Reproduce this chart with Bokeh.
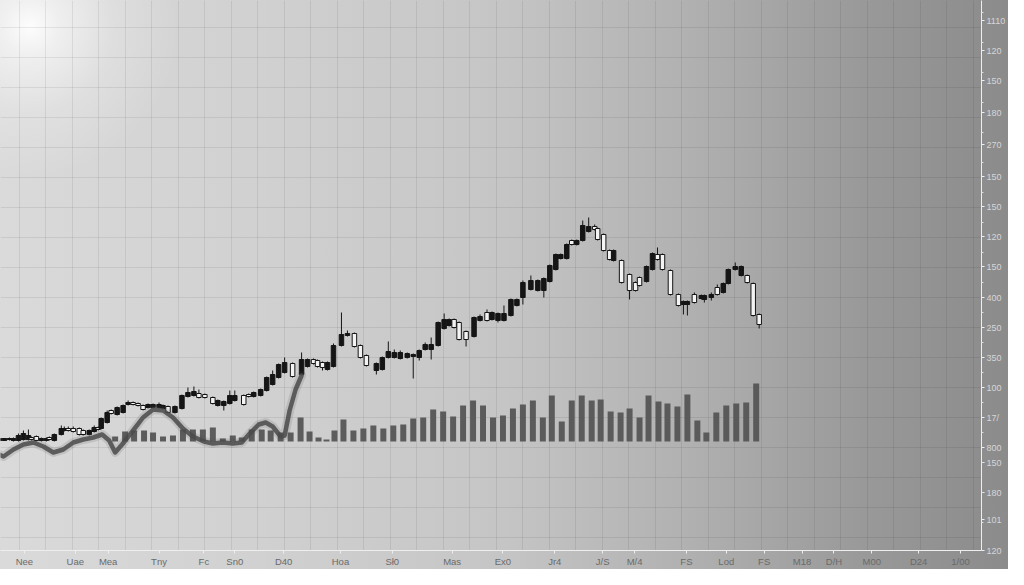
import numpy as np
from bokeh.plotting import figure
from bokeh.models import Range1d, FixedTicker, ColumnDataSource
from bokeh.embed import file_html
from bokeh.resources import INLINE

# ---------------- data ----------------
# candle sessions (time coordinate)
t = [3, 8, 13, 17, 22, 27, 32, 35, 40, 45, 50, 53, 58, 65, 68, 72, 77, 83, 87, 93,
     98, 102, 105, 111, 115, 121, 127, 132, 137, 142, 147, 152, 157, 163, 167, 172, 179, 186, 192, 198,
     203, 209, 217, 222, 228, 234, 239, 248, 253, 258, 265, 271, 277, 283, 289, 297, 306, 312, 318, 322,
     327, 332, 338, 346, 352, 359, 365, 371, 381, 387, 393, 399, 405, 412, 418, 424, 430, 436, 443, 449,
     454, 459, 464, 471, 479, 485, 492, 497, 503, 509, 516, 522, 528, 536, 543, 549, 555, 561, 566, 572,
     577, 582, 588, 594, 600, 603, 609, 615, 619, 627, 635, 641, 645, 652, 658, 663, 668, 676, 684, 689,
     693, 700, 707, 710, 717, 723, 729, 734, 741, 747, 753, 759, 765]

open_ = [115, 115, 116, 115, 115, 116, 116, 118, 119, 115,
         115, 118, 115, 121, 125, 127, 127, 127, 125, 121,
         124, 128, 127, 133, 145, 141, 143, 151, 153, 152,
         150, 148, 148, 148, 147, 149, 143, 147, 159, 160,
         162, 161, 158, 150, 150, 152, 155, 160, 161, 159,
         160, 165, 171, 178, 183, 192, 181, 189, 196, 195,
         193, 186, 189, 210, 220, 222, 210, 200, 185, 186,
         198, 198, 197, 198, 199, 198, 206, 206, 210, 227,
         230, 236, 233, 224, 219, 235, 243, 236, 235, 235,
         240, 250, 258, 266, 265, 265, 274, 286, 297, 297,
         315, 311, 315, 324, 329, 327, 321, 305, 295, 295,
         281, 273, 278, 274, 286, 301, 301, 285, 261, 251,
         251, 261, 257, 256, 258, 268, 263, 272, 286, 280,
         280, 272, 241]

high = [117, 117, 118, 118, 122, 125, 126, 119, 120, 118,
        118, 119, 122, 130, 129, 129, 129, 128, 126, 126,
        130, 129, 138, 145, 146, 149, 151, 155, 154, 153,
        151, 152, 152, 153, 151, 150, 150, 161, 168, 169,
        166, 162, 159, 156, 155, 165, 165, 161, 162, 164,
        167, 179, 185, 192, 198, 193, 203, 197, 197, 196,
        194, 194, 212, 243, 225, 223, 211, 201, 193, 199,
        214, 206, 205, 203, 202, 206, 213, 218, 234, 242,
        237, 237, 234, 225, 239, 241, 246, 244, 243, 250,
        257, 257, 275, 280, 276, 278, 291, 302, 302, 312,
        316, 316, 335, 338, 331, 328, 322, 306, 306, 296,
        282, 274, 279, 290, 303, 308, 302, 286, 262, 255,
        255, 263, 261, 261, 263, 271, 273, 287, 293, 290,
        281, 273, 242]

low = [115, 115, 115, 114, 114, 115, 115, 115, 114, 114,
       114, 115, 114, 120, 124, 124, 123, 120, 120, 120,
       123, 125, 126, 132, 141, 140, 142, 150, 150, 149,
       145, 147, 147, 147, 146, 142, 142, 146, 158, 159,
       157, 157, 151, 149, 145, 151, 154, 150, 158, 158,
       159, 164, 170, 177, 182, 178, 180, 188, 191, 188,
       185, 185, 188, 209, 219, 208, 197, 189, 181, 185,
       197, 197, 196, 197, 177, 195, 205, 196, 209, 226,
       229, 227, 215, 209, 218, 234, 234, 235, 233, 234,
       239, 249, 251, 265, 264, 258, 273, 285, 296, 296,
       310, 310, 314, 323, 325, 315, 304, 295, 294, 272,
       256, 264, 269, 273, 285, 295, 285, 260, 249, 241,
       240, 252, 256, 253, 255, 260, 262, 271, 285, 279,
       272, 239, 227]

close = [117, 117, 117, 117, 120, 122, 120, 116, 115, 117,
         117, 116, 121, 127, 127, 125, 124, 121, 121, 125,
         128, 126, 137, 143, 142, 148, 150, 153, 151, 150,
         146, 151, 151, 151, 150, 143, 149, 160, 163, 164,
         158, 158, 152, 155, 154, 160, 160, 151, 159, 163,
         166, 178, 181, 191, 193, 179, 196, 196, 192, 189,
         188, 193, 210, 221, 222, 209, 198, 190, 192, 198,
         204, 203, 203, 202, 201, 205, 211, 211, 233, 236,
         236, 228, 216, 216, 238, 239, 235, 243, 242, 242,
         256, 256, 273, 275, 275, 277, 290, 301, 301, 311,
         311, 315, 330, 329, 326, 316, 305, 296, 305, 273,
         265, 265, 270, 289, 302, 296, 286, 261, 250, 254,
         254, 253, 260, 260, 261, 261, 272, 286, 289, 289,
         273, 240, 231]

# volume
vol_t = [119, 129, 138, 148, 157, 167, 177, 187, 197, 207, 217, 227, 237, 246, 256, 266, 275, 285, 295, 305,
         314, 323, 331, 339, 348, 358, 368, 378, 388, 398, 408, 418, 428, 438, 448, 458, 468, 478, 488, 498,
         508, 518, 528, 538, 548, 557, 567, 577, 587, 597, 606, 616, 626, 635, 645, 654, 664, 673, 683, 693,
         703, 712, 722, 732, 742, 752, 762]
volume = [5, 10, 11, 11, 9, 5, 6, 12, 12, 12, 14, 3, 6, 4, 12, 12, 11, 9, 9, 24,
          10, 4, 2, 11, 22, 11, 13, 16, 13, 16, 17, 23, 24, 32, 30, 25, 36, 41, 36, 24,
          26, 33, 37, 41, 24, 46, 20, 41, 46, 41, 42, 30, 29, 33, 24, 46, 40, 38, 35, 47,
          21, 9, 29, 36, 38, 39, 58]

# thick grey indicator line
ma_t = [0, 7, 17, 27, 37, 47, 57, 67, 77, 87, 97, 106, 113, 119, 126, 137, 147, 157, 167, 177,
        187, 197, 208, 217, 227, 237, 246, 254, 263, 270, 277, 285, 289, 294, 300, 306]
ma_v = [102, 99, 106, 111, 113, 109, 103, 106, 113, 116, 118, 121, 115, 103, 111, 125, 138, 146, 145, 138,
        127, 119, 114, 112, 113, 112, 113, 122, 131, 133, 129, 119, 120, 145, 166, 180]

# axis tick labels
x_tick_pos = [28, 79, 112, 163, 208, 239, 288, 345, 397, 457, 508, 560, 608, 640, 692, 732, 770, 808, 840, 878, 925, 967]
x_tick_lab = ["Nee", "Uae", "Mea", "Tny", "Fc", "Sn0", "D40", "Hoa", "Sł0", "Mas", "Ex0", "Jr4", "J/S", "M/4",
              "FS", "Lod", "FS", "M18", "D/H", "M00", "D24", "1/00"]
y_tick_pos = [535, 505, 475, 443, 411, 379, 349, 319, 289, 258, 228, 198, 168, 138, 108, 93, 63, 36, 5]
y_tick_lab = ["1110", "120", "150", "180", "270", "150", "150", "120", "150", "400", "250", "350", "100",
              "17/", "800", "150", "180", "101", "120"]

# ---------------- figure ----------------
p = figure(width=1008, height=569, x_range=Range1d(4, 988), y_range=Range1d(5, 555),
           output_backend="svg", toolbar_location=None, y_axis_location="right",
           min_border_left=0, min_border_top=0, min_border_right=25, min_border_bottom=14)
p.extra_y_ranges = {"vol": Range1d(-109, 441)}

p.background_fill_color = None
p.border_fill_color = None
p.outline_line_color = None
p.styles = {
    "background": (
        "radial-gradient(circle at 30px 27px, rgba(255,255,255,0.95) 0px, rgba(255,255,255,0.6) 28px, "
        "rgba(255,255,255,0.2) 85px, rgba(255,255,255,0) 150px), "
        "linear-gradient(to right, #dadada 0%, #d1d1d1 25%, #c5c5c5 50%, #b1b1b1 68%, "
        "#9a9a9a 85%, #8b8b8b 100%)"
    )
}

# grid
p.xgrid.ticker = FixedTicker(ticks=[float(v) for v in np.arange(23, 990, 26.58)])
p.ygrid.ticker = FixedTicker(ticks=list(range(18, 545, 30)))
for g in (p.xgrid, p.ygrid):
    g.grid_line_color = "#000000"
    g.grid_line_alpha = 0.075
    g.grid_line_width = 1

# bottom axis
xa = p.xaxis[0]
xa.ticker = FixedTicker(ticks=x_tick_pos)
xa.major_label_overrides = {pos: lab for pos, lab in zip(x_tick_pos, x_tick_lab)}
xa.axis_line_color = "#eeeeee"
xa.major_tick_line_color = "#eeeeee"
xa.major_tick_out = 3
xa.major_tick_in = 0
xa.minor_tick_line_color = None
xa.major_label_standoff = 2
xa.major_label_text_color = "#6a6a6a"
xa.major_label_text_font = "Liberation Sans"
xa.major_label_text_font_size = "9.5px"

# right axis
ya = p.yaxis[0]
minor = [v + 15 for v in range(18, 530, 30)]
ya.ticker = FixedTicker(ticks=y_tick_pos, minor_ticks=minor)
ya.major_label_overrides = {pos: lab for pos, lab in zip(y_tick_pos, y_tick_lab)}
ya.axis_line_color = "#eeeeee"
ya.major_tick_line_color = "#eeeeee"
ya.minor_tick_line_color = "#dddddd"
ya.major_tick_out = 3
ya.major_tick_in = 0
ya.minor_tick_out = 2
ya.minor_tick_in = 0
ya.major_label_standoff = 2
ya.major_label_text_color = "#d6d6d6"
ya.major_label_text_font = "Liberation Sans"
ya.major_label_text_font_size = "9px"

# volume bars
p.vbar(x=vol_t, top=volume, bottom=0, width=6, y_range_name="vol",
       fill_color="#555555", line_color=None, fill_alpha=0.95)

# candles
src = ColumnDataSource(dict(
    t=t, high=high, low=low,
    top=[max(o, c) for o, c in zip(open_, close)],
    bottom=[min(o, c) for o, c in zip(open_, close)],
    fill=["#151515" if c >= o else "#f4f4f4" for o, c in zip(open_, close)],
))
p.segment(x0="t", y0="high", x1="t", y1="low", source=src, line_color="#151515", line_width=1)
p.vbar(x="t", top="top", bottom="bottom", width=4.5, source=src,
       fill_color="fill", line_color="#151515", line_width=1)

# indicator line
p.line(ma_t, ma_v, line_width=9, line_color="#4a4a4a", line_alpha=0.15, line_join="round", line_cap="round")
p.line(ma_t, ma_v, line_width=4.5, line_color="#4a4a4a", line_alpha=0.85, line_join="round", line_cap="round")

open("out.html", "w").write(file_html(p, INLINE))
